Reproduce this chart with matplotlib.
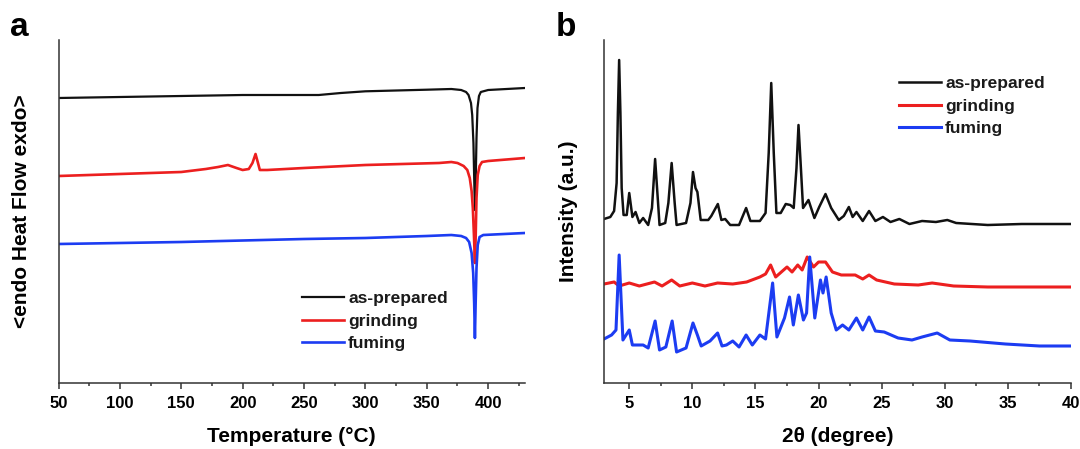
"""DSC (a) en PXRD (b) curves van as-prepared, grinding en fuming monsters."""
import matplotlib
matplotlib.use("Agg")
import matplotlib.pyplot as plt
from matplotlib.ticker import MultipleLocator

plt.rcParams["font.family"] = ["Liberation Sans", "DejaVu Sans"]
plt.rcParams["font.weight"] = "bold"
plt.rcParams["axes.labelweight"] = "bold"

labels = ["as-prepared", "grinding", "fuming"]
colors = ["#111111", "#ec1f1f", "#1c3cf2"]

# --- paneel a: DSC (temperatuur in °C, warmtestroom in willekeurige eenheden)
dsc_black_t = [50, 100, 150, 200, 250, 262, 280, 300, 350, 370, 378, 382, 384, 386, 387,
               388, 388.7, 389.2, 389.8, 390.5, 391.3, 392.5, 394, 397, 400, 430]
dsc_black_h = [285, 286, 287, 288, 288, 288, 290, 291.7, 293.3, 294, 293, 291, 288, 280, 268,
               240, 200, 173, 200, 245, 275, 287, 291, 292, 293, 295]

dsc_red_t = [50, 100, 150, 170, 180, 188, 195, 200, 205, 208, 210.5, 212.5, 214, 220, 250,
             300, 360, 370, 375, 380, 383, 385, 386.5, 387.5, 388.5, 389.2, 389.8, 390.5,
             391.5, 393, 395, 400, 430]
dsc_red_h = [207, 209, 211, 214, 216, 218, 215, 213, 214, 220, 229, 220, 213, 213, 215,
             218, 220, 221, 220, 217, 213, 205, 192, 175, 145, 120, 145, 185,
             208, 217, 221, 222, 225]

dsc_blue_t = [50, 150, 250, 300, 350, 370, 378, 382, 384.5, 386.5, 387.8, 388.6, 389.2,
              389.8, 390.5, 391.5, 393, 396, 430]
dsc_blue_h = [139, 141, 144, 145, 147, 148, 147, 145, 141, 130, 110, 80, 45,
              80, 115, 138, 146, 148, 150]

# --- paneel b: PXRD (2theta in graden, intensiteit in willekeurige eenheden)
xrd_black_x = [3.0, 3.5, 3.8, 4.0, 4.1, 4.2, 4.3, 4.4, 4.55, 4.8, 5.0, 5.25, 5.5, 5.8, 6.1,
               6.5, 6.8, 7.05, 7.4, 7.85, 8.1, 8.36, 8.6, 8.75, 9.5, 9.85, 10.05, 10.25, 10.4,
               10.66, 11.26, 11.5, 12.02, 12.3, 12.6, 13.0, 13.7, 14.26, 14.6, 15.35, 15.8,
               16.05, 16.25, 16.45, 16.66, 17.0, 17.4, 17.76, 18.03, 18.25, 18.41, 18.6,
               18.77, 19.2, 19.67, 20.05, 20.55, 21.0, 21.6, 22.0, 22.4, 22.7, 23.0, 23.5,
               24.0, 24.5, 25.1, 25.7, 26.4, 27.2, 28.2, 29.3, 30.2, 30.9, 33.4, 36.1, 40.0]
xrd_black_h = [164, 166, 172, 200, 270, 323, 270, 195, 168, 168, 190, 166, 171, 160, 165,
               158, 175, 224, 158, 160, 180, 220, 180, 158, 160, 180, 211, 195, 191,
               163, 163, 167, 179, 163, 164, 158, 158, 175, 162, 162, 170,
               230, 300, 230, 170, 170, 179, 178, 175, 215, 258, 215,
               175, 183, 165, 176, 189, 175, 163, 167, 176, 166, 171, 162,
               172, 162, 166, 161, 164, 159, 162, 161, 163, 160, 158, 159, 159]

xrd_red_x = [3.0, 3.8, 4.2, 5.0, 5.8, 7.0, 7.6, 8.36, 9.0, 10.0, 11.0, 12.0, 13.2, 14.3,
             15.35, 15.8, 16.2, 16.6, 17.5, 17.9, 18.35, 18.7, 19.1, 19.6, 20.0, 20.55,
             21.1, 21.8, 22.9, 23.5, 24.0, 24.6, 26.0, 27.9, 29.0, 30.7, 33.4, 40.0]
xrd_red_h = [99, 101, 97, 100, 97, 101, 97, 103, 97, 100, 97, 100, 99, 101,
             106, 109, 118, 106, 116, 111, 118, 113, 126, 116, 121, 121,
             111, 108, 108, 104, 108, 103, 99, 98, 100, 97, 96, 96]

xrd_blue_x = [3.0, 3.6, 3.95, 4.2, 4.5, 5.0, 5.25, 6.1, 6.5, 7.05, 7.4, 7.9, 8.4, 8.75,
              9.5, 10.05, 10.4, 10.7, 11.4, 12.0, 12.35, 12.7, 13.2, 13.7, 14.26, 14.75,
              15.35, 15.8, 16.36, 16.7, 17.3, 17.7, 18.0, 18.4, 18.8, 19.05, 19.3, 19.7,
              20.15, 20.35, 20.6, 21.0, 21.4, 21.9, 22.4, 23.0, 23.5, 24.0, 24.5, 25.2,
              26.3, 27.4, 28.2, 29.4, 30.4, 32.0, 34.8, 37.5, 40.0]
xrd_blue_h = [44, 48, 53, 128, 43, 53, 38, 38, 35, 62, 33, 36, 62, 31,
              35, 60, 48, 37, 42, 50, 37, 38, 42, 36, 48, 38,
              48, 44, 100, 46, 65, 86, 58, 88, 63, 70, 126, 65,
              103, 90, 106, 70, 53, 58, 53, 65, 53, 66, 52, 51,
              45, 43, 46, 50, 43, 42, 39, 37, 37]


def style_axis(ax):
    """Alleen linker- en onderas, ticks naar buiten, geen y-ticks."""
    for side in ("top", "right"):
        ax.spines[side].set_visible(False)
    for side in ("left", "bottom"):
        ax.spines[side].set_linewidth(1.1)
        ax.spines[side].set_color("#333333")
    ax.tick_params(axis="x", which="major", direction="out", length=4, width=1.1,
                   color="#333333", labelsize=12, pad=5)
    ax.tick_params(axis="x", which="minor", direction="out", length=2.5, width=1.1,
                   color="#333333")
    ax.tick_params(axis="y", which="both", left=False, labelleft=False)


fig = plt.figure(figsize=(10.8, 4.49), dpi=100)
ax_a = fig.add_axes([58.5 / 1080, 66 / 449, 466.5 / 1080, 343 / 449])
ax_b = fig.add_axes([604 / 1080, 66 / 449, 467 / 1080, 343 / 449])

dsc = [(dsc_black_t, dsc_black_h), (dsc_red_t, dsc_red_h), (dsc_blue_t, dsc_blue_h)]
for (t, h), lab, c, lw in zip(dsc, labels, colors, [1.6, 1.9, 1.9]):
    ax_a.plot(t, h, color=c, lw=lw, label=lab)
ax_a.set_xlim(50, 430)
ax_a.set_ylim(0, 343)
ax_a.xaxis.set_major_locator(MultipleLocator(50))
ax_a.xaxis.set_minor_locator(MultipleLocator(25))
style_axis(ax_a)
ax_a.set_xlabel("Temperature (°C)", fontsize=15, labelpad=12)
ax_a.set_ylabel("<endo Heat Flow exdo>", fontsize=15, labelpad=20)

xrd = [(xrd_black_x, xrd_black_h), (xrd_red_x, xrd_red_h), (xrd_blue_x, xrd_blue_h)]
for (x, h), lab, c, lw in zip(xrd, labels, colors, [1.8, 2.2, 2.2]):
    ax_b.plot(x, h, color=c, lw=lw, label=lab)
ax_b.set_xlim(3, 40)
ax_b.set_ylim(0, 343)
ax_b.xaxis.set_major_locator(MultipleLocator(5))
ax_b.xaxis.set_minor_locator(MultipleLocator(2.5))
style_axis(ax_b)
ax_b.set_xlabel("2θ (degree)", fontsize=15, labelpad=12)
ax_b.set_ylabel("Intensity (a.u.)", fontsize=15, labelpad=19)

legend_kw = dict(frameon=False, fontsize=12.5, handlelength=2.4, handletextpad=0.25,
                 labelspacing=0.42, borderpad=0, borderaxespad=0, loc="upper left",
                 bbox_transform=fig.transFigure, labelcolor="#1a1a1a")
ax_a.legend(bbox_to_anchor=(302 / 1080, 1 - 291 / 449), **legend_kw)
ax_b.legend(bbox_to_anchor=(899 / 1080, 1 - 76 / 449), **legend_kw)

fig.text(10 / 1080, 1 - 36 / 449, "a", fontsize=24, fontweight="bold")
fig.text(556 / 1080, 1 - 36 / 449, "b", fontsize=24, fontweight="bold")

fig.savefig("out.png", dpi=100)
print("Grafiek opgeslagen als out.png")
